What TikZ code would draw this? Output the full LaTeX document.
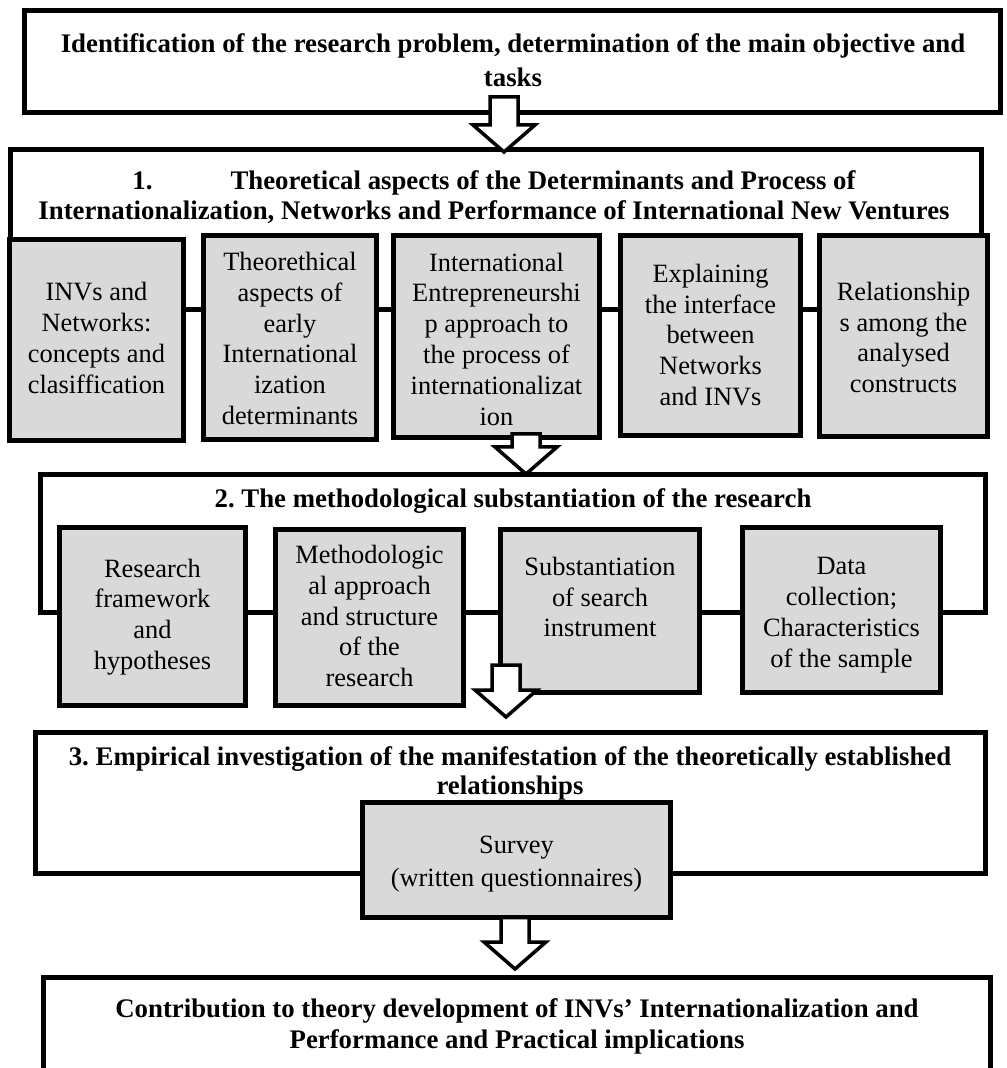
\documentclass[tikz,border=0pt]{standalone}
\usepackage{fontspec}
\setmainfont{Liberation Serif}
\usetikzlibrary{calc,fit}
\definecolor{cellgray}{HTML}{D9D9D9}
\frenchspacing
\newcommand\bodyfont{\fontsize{13.2pt}{15.4pt}\selectfont}
\newcommand\headfontskip[1]{\fontsize{13.4pt}{#1}\selectfont\bfseries}
% hollow block arrow: #1 = top of the shaft, #2 = tip
\newcommand\hollowarrow[2]{%
  \draw[hollow] ($(#1)+(-14,0)$) -- ($(#2)+(-14,-27)$) -- ($(#2)+(-31,-27)$)
    -- (#2) -- ($(#2)+(31,-27)$) -- ($(#2)+(14,-27)$) -- ($(#1)+(14,0)$) -- cycle;}
\tikzset{
  frame/.style={draw=black, line width=2.5pt, fill=white, inner sep=0pt},
  cell/.style={draw=black, line width=2.5pt, fill=cellgray, inner sep=0pt},
  celltext/.style={inner sep=0pt, align=flush center, font=\bodyfont},
  heading/.style={anchor=base, inner sep=0pt, text width=490pt, align=flush center},
  hollow/.style={draw=black, line width=1.75pt, fill=white, line join=miter},
}
\begin{document}
\begin{tikzpicture}[x=0.5pt,y=-0.5pt]
\clip (0,0) rectangle (1006,1068);
\fill[white] (0,0) rectangle (1006,1068);

% problem statement
\node[frame, fit={(24.5,10.5)(1000.5,112.5)}] (top) {};
\node[heading, font={\headfontskip{17pt}}] (toptext) at (513,53)
  {Identification of the research problem, determination of the main objective and\\tasks};

% part 1: theory
\node[frame, fit={(10.5,149.5)(981.5,310)}] (sec1) {};
\node[heading, font={\headfontskip{15pt}}] (sec1text) at (494,190)
  {1.\hspace{39pt}Theoretical aspects of the Determinants and Process of\\Internationalization, Networks and Performance of International New Ventures};
\node[cell, fit={(9.5,239.5)(183.5,440.5)}] (g1) {};
\node[cell, fit={(203.5,235.5)(376.5,439.5)}] (g2) {};
\node[cell, fit={(393.5,235.5)(599.5,437.5)}] (g3) {};
\node[cell, fit={(620.5,235.5)(800.5,435.5)}] (g4) {};
\node[cell, fit={(819.5,235.5)(987.5,436.5)}] (g5) {};
\node[celltext] (g1t) at (g1.center |- 0,338)
  {INVs and\\Networks:\\concepts and\\clasiffication};
\node[celltext] (g2t) at (g2.center |- 0,338.5)
  {Theorethical\\aspects of\\early\\International\\ization\\determinants};
\node[celltext] (g3t) at (g3.center |- 0,339)
  {International\\Entrepreneurshi\\p approach to\\the process of\\internationalizat\\ion};
\node[celltext] (g4t) at (g4.center |- 0,335)
  {Explaining\\the interface\\between\\Networks\\and INVs};
\node[celltext] (g5t) at (g5.center |- 0,337.5)
  {Relationship\\s among the\\analysed\\constructs};

% part 2: methodology
\node[frame, fit={(40.5,474.5)(985.5,612)}] (sec2) {};
\node[heading, font={\headfontskip{15pt}}] (sec2text) at (513,507)
  {2. The methodological substantiation of the research};
\node[cell, fit={(59.5,527.5)(245.5,705.5)}] (h1) {};
\node[cell, fit={(275.5,529.5)(463.5,705.5)}] (h2) {};
\node[cell, fit={(500.5,529.5)(699.5,692.5)}] (h3) {};
\node[cell, fit={(742.5,527.5)(940.5,692.5)}] (h4) {};
\node[celltext] (h1t) at (h1.center |- 0,617)
  {Research\\framework\\and\\hypotheses};
\node[celltext] (h2t) at (h2.center |- 0,616)
  {Methodologic\\al approach\\and structure\\of the\\research};
\node[celltext] (h3t) at (h3.center |- 0,597)
  {Substantiation\\of search\\instrument};
\node[celltext] (h4t) at (h4.center |- 0,615)
  {Data\\collection;\\Characteristics\\of the sample};

% part 3: empirical study
\node[frame, fit={(35.5,732.5)(985.5,873)}] (sec3) {};
\node[heading, font={\headfontskip{14.5pt}}] (sec3text) at (510,765)
  {3. Empirical investigation of the manifestation of the theoretically established\\relationships};
\node[cell, fit={(362.5,802.5)(670.5,917.5)}] (survey) {};
\node[celltext, font={\fontsize{13.2pt}{16.3pt}\selectfont}] (surveyt) at (survey.center |- 0,864)
  {Survey\\(written questionnaires)};

% outcome
\node[frame, fit={(43.5,977.5)(990.5,1100)}] (result) {};
\node[heading, font={\headfontskip{15.5pt}}] (resulttext) at (517,1017)
  {Contribution to theory development of INVs’ Internationalization and\\Performance and Practical implications};

% flow arrows
\coordinate (a1s) at (504,97);    \coordinate (a1t) at (504,152);
\coordinate (a2s) at (526,434);   \coordinate (a2t) at (526,474);
\coordinate (a3s) at (506,665);   \coordinate (a3t) at (506,717);
\coordinate (a4s) at (515,917.5); \coordinate (a4t) at (515,969);
\hollowarrow{a1s}{a1t}
\hollowarrow{a2s}{a2t}
\hollowarrow{a3s}{a3t}
\hollowarrow{a4s}{a4t}
\end{tikzpicture}
\end{document}
